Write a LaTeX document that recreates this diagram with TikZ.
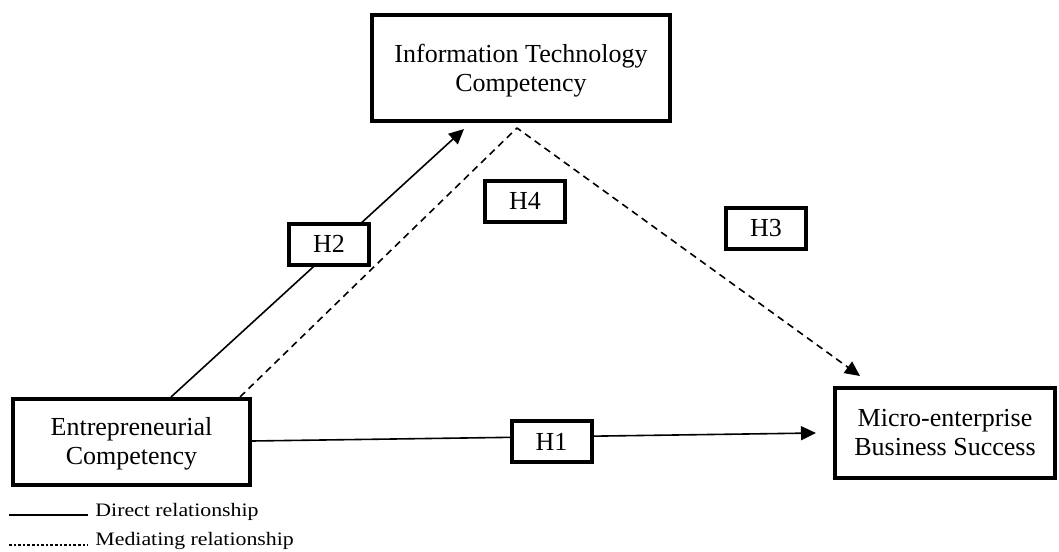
\documentclass[tikz,border=0pt]{standalone}
\usepackage{fontspec}
\setmainfont{Liberation Serif}
\newfontfamily\legendfont[FakeStretch=1.15]{Liberation Serif}
\usetikzlibrary{arrows.meta,calc}
\begin{document}
\begin{tikzpicture}[x=0.5pt,y=-0.5pt,
  box/.style={draw,line width=2pt,fill=white,align=center,inner sep=0pt,
    font=\fontsize{13}{14.5}\selectfont},
  hbox/.style={box,minimum width=40pt,minimum height=20.5pt},
  conn/.style={line width=0.8pt,line join=round},
  mediate/.style={conn,dash pattern=on 3.5pt off 2.5pt},
  tip/.style={-{Triangle[length=7.5pt,width=7pt]}},
  legend/.style={anchor=base west,inner sep=0pt,font=\legendfont\fontsize{9.5}{11}\selectfont}]
\useasboundingbox (0,0) rectangle (1059,551);
% main boxes
\node[box,minimum width=149pt,minimum height=53pt] (IT) at (521,68) {\rule{0pt}{12pt}Information Technology\\Competency};
\node[box,minimum width=118.5pt,minimum height=43pt] (EC) at (131.5,442) {\rule{0pt}{11pt}Entrepreneurial\\Competency};
\node[box,minimum width=110pt,minimum height=45pt] (MS) at (945,433) {Micro-enterprise\\Business Success};
% connectors
\coordinate (apex) at ($(IT.south west)+(147,5)$);
\draw[conn,tip] ($(EC.north west)+(160,0)$) -- ($(IT.south west)+(94,6)$);
\draw[mediate,tip] ($(EC.north west)+(229,0)$) -- (apex) -- ($(MS.north west)+(27,-10)$);
\draw[conn,tip] ($(EC.east)+(0,-1)$) -- ($(MS.west)+(-17,0)$);
% hypothesis labels
\node[hbox] (H1) at (551.5,441.5) {H1};
\node[hbox] (H2) at (329,244) {H2};
\node[hbox] (H3) at (766,228.5) {H3};
\node[hbox] (H4) at (525,201) {H4};
% legend
\node[legend] (ld) at (95,516) {Direct relationship};
\node[legend] (lm) at (95,545) {Mediating relationship};
\coordinate (ld0) at (9,515);
\coordinate (lm0) at (9,545);
\draw[line width=0.6pt] (ld0) -- (ld0 -| {$(ld.base west)+(-7,0)$});
\draw[line width=0.6pt,dash pattern=on 1.3pt off 1pt] (lm0) -- (lm0 -| {$(lm.base west)+(-7,0)$});
\end{tikzpicture}
\end{document}
